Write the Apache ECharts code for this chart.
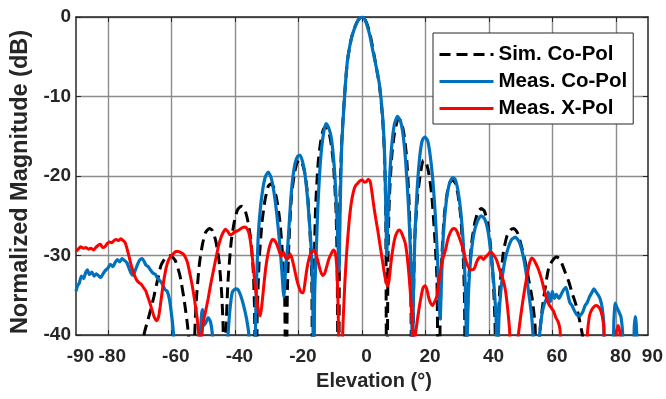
<!DOCTYPE html>
<html>
<head>
<meta charset="utf-8">
<script src="https://cdn.jsdelivr.net/npm/echarts@6/dist/echarts.min.js"></script>
<style>
  html, body { margin: 0; padding: 0; background: #fff; }
  #chart { width: 666px; height: 399px; }
</style>
</head>
<body>
<div id="chart"></div>
<script>
// Elevation cut: simulated vs measured co-pol and measured cross-pol (dB).
// Values read off the reference figure; nulls that fall below -40 dB are clipped by the grid.
const xLabelValues = [-90, -80, -60, -40, -20, 0, 20, 40, 60, 80, 90]
const xTickValues = [-80, -60, -40, -20, 0, 20, 40, 60, 80]

const simCoPol = [
  [-71, -55], [-68.6, -40], [-67.5, -38.3], [-66.5, -36.8], [-65.5, -35.2], [-64.3, -33], [-63.2, -31.2],
  [-61.8, -30.3], [-60.3, -30], [-58.8, -30.6], [-57.3, -32.5], [-56, -35.5], [-54.9, -38.8], [-54, -43], [-53.2, -55],
  [-52.8, -42], [-52.2, -36], [-51.2, -31.2], [-50.2, -28.6], [-49.2, -27.1], [-48, -26.6], [-47, -26.9],
  [-46, -28.2], [-45, -30.6], [-44.2, -34.5], [-43.7, -39], [-43.2, -55],
  [-42.8, -40], [-42.2, -33.5], [-41.2, -28.4], [-40.2, -25.8], [-39.2, -24.3], [-38, -23.8], [-37, -24.1],
  [-36, -25.5], [-35, -28], [-34.2, -32], [-33.8, -37], [-33.4, -55],
  [-33, -38], [-32.4, -31], [-31.5, -26], [-30.5, -23], [-29.5, -21.3], [-28.7, -21], [-27.8, -21.4],
  [-26.8, -23], [-25.8, -25.8], [-24.9, -30.5], [-24.3, -35.5], [-23.9, -55],
  [-23.5, -35], [-23, -28.5], [-22.2, -22.6], [-21.3, -19.8], [-20.5, -18.4], [-19.7, -18], [-18.9, -18.3],
  [-18, -19.6], [-17.1, -22.4], [-16.3, -27.5], [-15.8, -33], [-15.4, -55],
  [-15, -31], [-14.6, -24], [-13.8, -18.4], [-13, -15.7], [-12.2, -14.2], [-11.4, -13.8], [-10.6, -14.2],
  [-9.8, -15.7], [-9, -18.4], [-8.2, -24], [-7.8, -31], [-7.4, -55],
  [-7, -24], [-6.4, -16], [-5.5, -10], [-4.6, -5.6], [-3.4, -2.8], [-2.4, -1.4], [-1.2, -0.4], [0, 0],
  [1.2, -0.5], [2.4, -1.9], [3.4, -3.9], [4.5, -6.3], [5.5, -8.6], [6.5, -12.8], [7.1, -17.5], [7.5, -25], [7.8, -55],
  [8.2, -30], [8.6, -23], [9.4, -17.4], [10.2, -14.7], [11, -13.2], [11.6, -12.8], [12.4, -13.2], [13.2, -14.7],
  [14, -17.4], [14.8, -23], [15.3, -30], [15.8, -55],
  [16.2, -36], [16.6, -28], [17.5, -22.5], [18.4, -19.7], [19.3, -18], [20.2, -18.3], [21.1, -19.8], [22, -22.6],
  [22.9, -27.6], [23.6, -33], [24.2, -55],
  [24.6, -38], [25.1, -30.5], [25.9, -25], [26.8, -22.2], [27.6, -20.9], [28.5, -20.5], [29.4, -20.9], [30.2, -22.3],
  [31.1, -25.2], [31.9, -30.5], [32.3, -36], [32.6, -55],
  [33, -40], [33.6, -33], [34.5, -28.5], [35.5, -25.9], [36.5, -24.5], [37.5, -24.1], [38.5, -24.4], [39.5, -25.8],
  [40.4, -28.5], [41.3, -33], [41.9, -39], [42.3, -55],
  [42.8, -40], [43.4, -34], [44.5, -29.6], [45.6, -27.6], [46.7, -26.8], [47.8, -26.6], [49, -27.2], [50.3, -29],
  [51.5, -31], [52.6, -33.3], [53.6, -35.5], [54.5, -39], [55.2, -55],
  [55.8, -41], [56.5, -37.5], [57.5, -34.5], [58.8, -31.5], [60, -30.6], [61.2, -30.2], [62.2, -30.4], [63.2, -31.3],
  [64.2, -32.4], [65.1, -33.3], [66.2, -34.8], [67.2, -36], [68.2, -37.6], [69.2, -39.6], [70.5, -43], [72, -55]
]

const measCoPol = [
  [-90, -34.5], [-89.5, -33.8], [-89, -33.5], [-88.3, -32.6], [-87.6, -32.9], [-87, -32.2], [-86.4, -31.8],
  [-85.8, -32.4], [-85, -32.1], [-84.3, -32.6], [-83.6, -32.3], [-83, -32.5], [-82.2, -32.8], [-81.5, -32.3],
  [-80.8, -31.9], [-80, -31.6], [-79.2, -31.1], [-78.4, -31.4], [-77.7, -30.9], [-77, -30.5], [-76.2, -30.8],
  [-75.5, -30.4], [-74.8, -30.6], [-74, -30.9], [-73.3, -31.6], [-72.6, -32.3], [-72, -32.5], [-71.3, -31.8],
  [-70.5, -31], [-70, -30.6], [-69.2, -30.4], [-68.6, -30.7], [-68, -31.2], [-67.3, -31.4], [-66.6, -31.8],
  [-65.8, -32.2], [-65, -32.4], [-64.3, -32.9], [-63.5, -33.2], [-62.8, -33.6], [-62, -34.3], [-61.3, -34.5],
  [-60.6, -35.5], [-60, -37.2], [-59.5, -39], [-59, -42], [-58, -50],
  [-52, -50], [-51, -41], [-50.5, -37.5], [-50.2, -36.8], [-49.8, -38.8], [-49.2, -38.5], [-48.4, -37.8],
  [-47.7, -38.3], [-47.2, -39.5], [-46.6, -42], [-45.5, -50],
  [-43.5, -50], [-42.3, -41], [-41.6, -37], [-40.8, -34.6], [-39.8, -34.2], [-39, -34.3], [-38.2, -35],
  [-37.3, -36.2], [-36.3, -38], [-35.6, -40], [-35, -48], [-34.2, -50],
  [-33.8, -45], [-33.3, -35], [-32.7, -28], [-32, -24.2], [-31.2, -21.6], [-30.4, -20.1], [-29.5, -19.5],
  [-28.6, -20.2], [-27.7, -22], [-26.8, -24.8], [-25.9, -28.5], [-25.2, -32], [-24.6, -35.2], [-24, -31.5],
  [-23.3, -28.5], [-22.5, -23.5], [-21.8, -20.3], [-21, -18.3], [-20.2, -17.5], [-19.5, -17.4], [-18.7, -18.2],
  [-17.9, -19.9], [-17.2, -22.5], [-16.5, -26], [-16, -29], [-15.5, -35], [-15.2, -48], [-14.9, -35],
  [-14.3, -28.5], [-13.9, -24], [-13.3, -19.5], [-12.7, -16.5], [-12, -14.4], [-11.3, -13.4], [-10.5, -13.9],
  [-9.7, -15.1], [-9, -17.5], [-8.5, -20.1], [-8, -24], [-7.5, -29], [-7.2, -32], [-6.9, -25], [-6.4, -16.5],
  [-5.5, -10.2], [-4.6, -5.6], [-3.4, -2.8], [-2.4, -1.5], [-1.2, -0.4], [0, 0], [0.6, -0.1], [1.4, -0.8],
  [2.4, -2.2], [3.4, -4.2], [4.5, -6.3], [5.5, -8.5], [6.5, -12.5], [7, -16], [7.3, -20], [7.6, -26], [7.8, -30],
  [8.1, -26], [8.6, -21], [9.3, -16.5], [10.2, -13.5], [11.2, -12.5], [12.2, -13.2], [13, -15], [13.8, -18.4],
  [14.6, -23.5], [15.2, -29], [15.6, -35], [15.9, -45], [16.2, -35], [16.7, -27], [17.4, -21.5], [18.2, -17.5],
  [19, -15.5], [19.8, -15.1], [20.7, -15.6], [21.5, -17.5], [22.3, -20.5], [23.1, -25], [23.8, -30.5], [24.3, -36],
  [24.6, -38], [25, -33.5], [25.6, -27.5], [26.5, -23.3], [27.5, -21], [28.5, -20.2], [29.3, -20.4], [30.2, -21.8],
  [31.1, -24.5], [31.9, -28.5], [32.5, -33.5], [33, -42], [33.5, -35], [34.2, -30.5], [35.2, -27.3], [36.3, -25.7],
  [37.5, -25], [38.6, -25.4], [39.7, -27], [40.6, -29.8], [41.5, -33.5], [42.2, -38], [42.6, -45], [43.1, -38],
  [43.8, -34], [44.8, -31], [45.9, -29.2], [47.1, -28], [48.3, -27.7], [49.5, -28.3], [50.6, -29.8], [51.6, -32],
  [52.5, -34.8], [53.4, -37.6], [54.1, -42], [54.8, -50], [55.4, -45], [55.9, -40], [56.6, -37.5], [57.3, -36.2],
  [58, -35.5], [58.6, -34.6], [59.3, -35.8], [59.9, -34.5], [60.6, -35.4], [61.2, -34.9], [62, -35.4], [62.8, -34.8],
  [63.5, -34.3], [64.2, -34], [64.8, -34.9], [65.4, -35.9], [66.1, -36.3], [66.8, -36.9], [67.5, -37.4],
  [68.2, -37.6], [68.8, -37.5], [69.5, -37.1], [70.2, -36.3], [70.9, -35.9], [71.6, -35.2], [72.3, -34.7],
  [73, -34.2], [73.7, -34.6], [74.4, -35], [75, -35.5], [75.6, -36.6], [76.1, -38.5], [76.5, -42],
  [78.8, -42], [79.3, -38], [79.7, -36], [80.3, -36.6], [80.9, -37.1], [81.5, -37.7], [82, -39.5], [82.5, -43],
  [85.3, -43], [85.7, -39], [86, -37.7], [86.3, -38.5], [86.7, -42]
]

const measXPol = [
  [-90, -29.5], [-89.3, -29.2], [-88.5, -28.9], [-87.7, -29.1], [-86.9, -29], [-86.1, -29.2], [-85.3, -29.1],
  [-84.5, -29.3], [-83.8, -29], [-83, -28.7], [-82.3, -28.6], [-81.6, -29], [-80.9, -28.9], [-80.2, -28.5],
  [-79.4, -28.3], [-78.7, -28.4], [-78, -28.1], [-77.3, -28], [-76.6, -28.1], [-75.9, -27.9], [-75.2, -28.1],
  [-74.5, -28.4], [-73.9, -29.2], [-73.2, -30.3], [-72.5, -31.4], [-71.7, -32.4], [-70.9, -33.1], [-70.2, -33.4],
  [-69.5, -33.6], [-68.8, -34], [-68.1, -34.4], [-67.4, -35.2], [-66.7, -36], [-66, -37], [-65.3, -37.8],
  [-64.6, -38.2], [-64, -37.7], [-63.5, -36.4], [-62.9, -34.6], [-62.3, -33], [-61.6, -31.5], [-60.9, -30.6],
  [-60.2, -30.1], [-59.4, -29.8], [-58.6, -29.5], [-57.9, -29.5], [-57.1, -29.6], [-56.3, -29.8], [-55.6, -30.2],
  [-54.9, -30.9], [-54.2, -32.2], [-53.5, -33.6], [-52.8, -35.3], [-52.1, -37.2], [-51.5, -39.2], [-51, -43],
  [-50.6, -41], [-50, -38.5], [-49.2, -37], [-48.4, -35.4], [-47.6, -33.6], [-46.8, -32], [-46, -30.4],
  [-45.2, -28.9], [-44.5, -27.9], [-43.7, -27.1], [-42.9, -26.7], [-42.2, -27], [-41.5, -27.4], [-40.8, -27.3],
  [-40, -27], [-39.2, -26.9], [-38.4, -26.7], [-37.6, -26.5], [-36.9, -26.4], [-36.2, -26.6], [-35.5, -27.3],
  [-34.9, -28.8], [-34.3, -31], [-33.7, -33.5], [-33.1, -35.5], [-32.5, -37.2], [-32, -37.6], [-31.5, -36.2],
  [-30.9, -33.8], [-30.3, -31.6], [-29.6, -29.8], [-28.9, -28.6], [-28.2, -28], [-27.5, -28.1], [-26.8, -28.6],
  [-26.1, -29.4], [-25.4, -30.1], [-24.7, -29.6], [-24, -30.3], [-23.3, -30.4], [-22.6, -29.8], [-22, -30.4],
  [-21.3, -31.6], [-20.6, -32.9], [-19.9, -33.9], [-19.2, -34.6], [-18.5, -34.7], [-17.9, -33.3], [-17.3, -31.6],
  [-16.6, -30.3], [-15.9, -29.6], [-15.2, -29.3], [-14.5, -29.8], [-13.8, -30.8], [-13.1, -31.9], [-12.4, -32.5],
  [-11.8, -32.3], [-11.1, -31.4], [-10.4, -30.4], [-9.7, -29.8], [-9, -29.3], [-8.5, -29.5], [-8, -31],
  [-7.6, -35], [-7.2, -41], [-6.4, -42], [-5.9, -38], [-5.4, -33.5], [-4.8, -29.5], [-4.1, -26], [-3.4, -23.5],
  [-2.7, -22], [-2, -21.2], [-1.3, -20.9], [-0.6, -20.6], [0.1, -20.5], [0.8, -20.8], [1.4, -20.7], [2, -20.4],
  [2.6, -20.7], [3.2, -22.2], [3.8, -24], [4.4, -25.5], [5, -26.9], [5.6, -28.5], [6.2, -30], [6.8, -31.6],
  [7.4, -33], [8, -33.8], [8.5, -33.2], [9.1, -31], [9.7, -29.2], [10.3, -27.9], [11, -27.1], [11.7, -26.8],
  [12.3, -27], [12.9, -27.6], [13.6, -28.4], [14.2, -30], [14.8, -32.5], [15.4, -35.6], [15.9, -39], [16.3, -41],
  [16.8, -40], [17.4, -38.2], [18, -36.6], [18.6, -35.2], [19.2, -34.1], [19.8, -33.8], [20.4, -34.2], [21, -35.3],
  [21.6, -36], [22.2, -36.3], [22.8, -35.9], [23.5, -35.2], [24.2, -33.3], [24.9, -31.5], [25.6, -30.2],
  [26.3, -29.3], [27, -28], [27.7, -27.2], [28.4, -26.7], [29.1, -26.6], [29.8, -26.9], [30.5, -27.6],
  [31.2, -28.4], [31.9, -29.3], [32.6, -30.5], [33.3, -31.3], [34, -31.7], [34.7, -31.8], [35.4, -31.6],
  [36.1, -30.8], [36.8, -30.3], [37.5, -30.2], [38.2, -30.5], [38.9, -30.2], [39.6, -29.9], [40.3, -29.6],
  [41, -29.7], [41.7, -30.1], [42.4, -30.6], [43.1, -31.5], [43.8, -32.4], [44.5, -33.2], [45.2, -34.5],
  [45.8, -36.5], [46.4, -39], [47, -42], [48.6, -42], [49.2, -40], [49.9, -37.8], [50.6, -35.8], [51.3, -34],
  [52, -32.4], [52.7, -31], [53.4, -30.3], [54, -30.5], [54.7, -31], [55.4, -31.6], [56.1, -32.4], [56.8, -33.4],
  [57.5, -34.6], [58.2, -35.5], [58.9, -36.2], [59.6, -36.6], [60.3, -37], [61, -37.8], [61.7, -38.3],
  [62.3, -39.2], [62.9, -41], [70.5, -42], [71, -39.5], [71.6, -37.6], [72.2, -36.9], [72.9, -36.5],
  [73.6, -36.3], [74.3, -36.4], [75, -36.8], [75.6, -37.6], [76.1, -39], [76.6, -42], [79.6, -42], [80.1, -39.5],
  [80.6, -38.8], [81.1, -39.5], [81.6, -42]
]

const FONT = '"Liberation Sans", Arial, Helvetica, sans-serif'
const INK = '#262626'
const GRID_LINE = { color: '#8c8c8c', width: 1.4 }
const BOX_LINE = { show: true, onZero: false, lineStyle: { color: INK, width: 1.5 } }

const chart = echarts.init(document.getElementById('chart'), null, { renderer: 'canvas' })

chart.setOption({
  backgroundColor: '#ffffff',
  animation: false,
  textStyle: { fontFamily: FONT },
  grid: { left: 76, right: 17, top: 17, bottom: 64 },
  legend: {
    orient: 'vertical',
    left: 433,
    top: 33,
    padding: [11, 6, 5, 5],
    itemGap: 6,
    itemWidth: 54,
    itemHeight: 20,
    backgroundColor: '#ffffff',
    borderColor: INK,
    borderWidth: 1,
    // hide the marker dot, keep the line sample
    itemStyle: { opacity: 0 },
    lineStyle: { width: 3 },
    textStyle: { fontFamily: FONT, fontSize: 20.5, fontWeight: 'bold', color: '#000', lineHeight: 20 },
    data: ['Sim. Co-Pol', 'Meas. Co-Pol', 'Meas. X-Pol'],
  },
  xAxis: [
    {
      type: 'value',
      min: -90,
      max: 90,
      position: 'bottom',
      axisLine: BOX_LINE,
      axisTick: { show: true, inside: true, length: 5, customValues: xTickValues, lineStyle: { color: INK } },
      axisLabel: {
        customValues: xLabelValues,
        margin: 12,
        padding: [0, 0, 0, 9],
        fontFamily: FONT,
        fontSize: 19,
        fontWeight: 'bold',
        color: INK,
      },
      splitLine: { show: true, lineStyle: GRID_LINE },
      name: 'Elevation (°)',
      nameLocation: 'middle',
      nameGap: 36,
      nameTextStyle: { fontFamily: FONT, fontSize: 20, fontWeight: 'bold', color: INK, padding: [0, 0, 0, 24] },
    },
    {
      type: 'value',
      min: -90,
      max: 90,
      position: 'top',
      axisLine: BOX_LINE,
      axisTick: { show: true, inside: true, length: 5, customValues: xTickValues, lineStyle: { color: INK } },
      axisLabel: { show: false },
      splitLine: { show: false },
    },
  ],
  yAxis: [
    {
      type: 'value',
      min: -40,
      max: 0,
      interval: 10,
      position: 'left',
      axisLine: BOX_LINE,
      axisTick: { show: true, inside: true, length: 5, lineStyle: { color: INK } },
      axisLabel: { margin: 5, fontFamily: FONT, fontSize: 19, fontWeight: 'bold', color: INK },
      splitLine: { show: true, lineStyle: GRID_LINE },
      name: 'Normalized Magnitude (dB)',
      nameLocation: 'middle',
      nameGap: 43,
      nameTextStyle: { fontFamily: FONT, fontSize: 23.5, fontWeight: 'bold', color: INK, padding: [0, 12, 0, 0] },
    },
    {
      type: 'value',
      min: -40,
      max: 0,
      interval: 10,
      position: 'right',
      axisLine: BOX_LINE,
      axisTick: { show: true, inside: true, length: 5, lineStyle: { color: INK } },
      axisLabel: { show: false },
      splitLine: { show: false },
    },
  ],
  series: [
    {
      name: 'Sim. Co-Pol',
      type: 'line',
      data: simCoPol,
      symbol: 'none',
      smooth: 0.2,
      clip: true,
      lineStyle: { color: '#000000', width: 3, type: [11, 6] },
      itemStyle: { color: '#000000' },
    },
    {
      name: 'Meas. Co-Pol',
      type: 'line',
      data: measCoPol,
      symbol: 'none',
      smooth: 0.2,
      clip: true,
      lineStyle: { color: '#0072BD', width: 3.2 },
      itemStyle: { color: '#0072BD' },
    },
    {
      name: 'Meas. X-Pol',
      type: 'line',
      data: measXPol,
      symbol: 'none',
      smooth: 0.2,
      clip: true,
      lineStyle: { color: '#FF0000', width: 3 },
      itemStyle: { color: '#FF0000' },
    },
  ],
})
</script>
</body>
</html>
